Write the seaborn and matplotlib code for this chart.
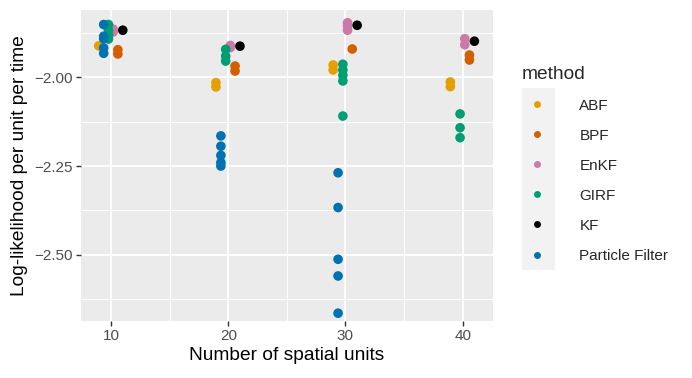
import numpy as np
import pandas as pd
import seaborn as sns
import matplotlib
matplotlib.use("Agg")
import matplotlib.pyplot as plt
from matplotlib.patches import Rectangle
from matplotlib.ticker import FuncFormatter, MultipleLocator

# ---- data ----
methods = ["ABF", "BPF", "EnKF", "GIRF", "KF", "Particle Filter"]
colors = ["#E69F00", "#D55E00", "#CC79A7", "#009E73", "#000000", "#0072B2"]
# horizontal dodge of each method around the number of units
dodge = {"ABF": -1.05, "Particle Filter": -0.63, "GIRF": -0.22,
         "EnKF": 0.18, "BPF": 0.58, "KF": 1.0}

units = [10, 20, 30, 40]
abf = {10: [-1.911], 20: [-2.015, -2.027], 30: [-1.965, -1.979], 40: [-2.013, -2.026]}
bpf = {10: [-1.922, -1.934], 20: [-1.968, -1.982], 30: [-1.920], 40: [-1.937, -1.951]}
enkf = {10: [-1.864, -1.872], 20: [-1.910, -1.916], 30: [-1.846, -1.855, -1.867], 40: [-1.891, -1.908]}
girf = {10: [-1.851, -1.867, -1.881, -1.892], 20: [-1.921, -1.940, -1.954],
        30: [-1.963, -1.979, -1.994, -2.010, -2.109], 40: [-2.103, -2.142, -2.170]}
kf = {10: [-1.867], 20: [-1.912], 30: [-1.853], 40: [-1.898]}
pf = {10: [-1.851, -1.884, -1.891, -1.917, -1.932],
      20: [-2.165, -2.194, -2.220, -2.240, -2.250],
      30: [-2.269, -2.367, -2.513, -2.560, -2.665], 40: []}

series = {"ABF": abf, "BPF": bpf, "EnKF": enkf, "GIRF": girf, "KF": kf, "Particle Filter": pf}

rows = []
for m in methods:
    for j in units:
        for v in series[m][j]:
            rows.append({"units": j + dodge[m], "loglik": v, "method": m})
df = pd.DataFrame(rows)

# ---- figure ----
sns.set_style("darkgrid")
plt.rcParams["font.family"] = ["Liberation Sans", "DejaVu Sans"]

fig = plt.figure(figsize=(6.92, 3.78), dpi=100)
ax = fig.add_axes([80.7 / 692, 1 - 321 / 378, (493 - 80.7) / 692, (321 - 10) / 378])
ax.set_facecolor("#EBEBEB")

sns.scatterplot(data=df, x="units", y="loglik", hue="method", hue_order=methods,
                palette=colors, s=48, linewidth=0, ax=ax, legend=True, zorder=3)

ax.set_xlim(7.41, 42.59)
ax.set_ylim(-2.687, -1.810)
ax.xaxis.set_major_locator(MultipleLocator(10))
ax.xaxis.set_minor_locator(MultipleLocator(5))
ax.yaxis.set_major_locator(MultipleLocator(0.25))
ax.yaxis.set_minor_locator(MultipleLocator(0.125))
ax.yaxis.set_major_formatter(FuncFormatter(lambda v, p: f"{v:.2f}".replace("-", "\u2212")))

ax.grid(which="major", color="white", linewidth=1.35)
ax.grid(which="minor", color="white", linewidth=0.7)
ax.set_axisbelow(True)
for s in ax.spines.values():
    s.set_visible(False)

ax.tick_params(axis="both", which="major", length=3.4, width=1.0, color="#333333",
               labelsize=11, labelcolor="#4D4D4D", pad=2.5, left=True, bottom=True)
ax.tick_params(axis="both", which="minor", length=0)

ax.set_xlabel("Number of spatial units", fontsize=13.75, color="black", labelpad=3)
ax.set_ylabel("Log-likelihood per unit per time", fontsize=13.75, color="black", labelpad=4)

# legend
fig.patches.append(Rectangle((522 / 692, 1 - 270 / 378), 33 / 692, 182 / 378,
                             transform=fig.transFigure, facecolor="#F2F2F2",
                             edgecolor="none", zorder=-1))
handles, labels = ax.get_legend_handles_labels()
leg = ax.legend(handles, labels, title="method", loc="upper left",
                bbox_to_anchor=(516 / 692, 1 - 59.5 / 378), bbox_transform=fig.transFigure,
                frameon=False, fontsize=11, title_fontsize=13.75, markerscale=0.72,
                labelspacing=1.05, handletextpad=1.75, handlelength=2.0,
                alignment="left", borderaxespad=0)

fig.savefig("out.png", dpi=100)
